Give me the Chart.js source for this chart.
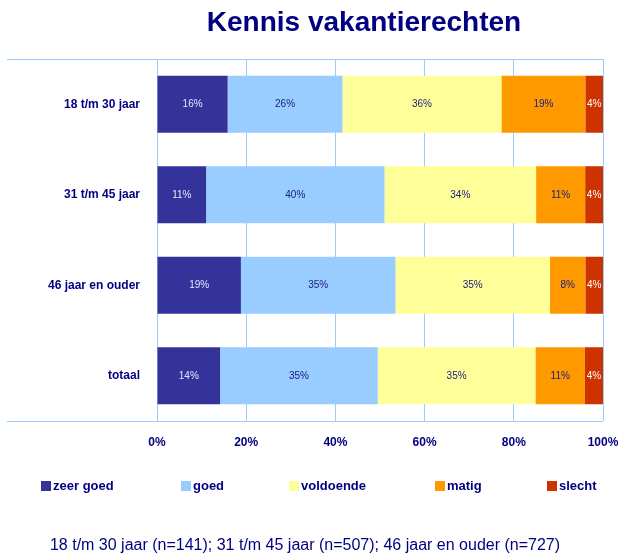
<!DOCTYPE html>
<html>
<head>
<meta charset="utf-8">
<script src="https://cdn.jsdelivr.net/npm/chart.js@4"></script>
<style>
  body { margin: 0; background: #fff; }
  #wrap { width: 618px; height: 554px; }
</style>
</head>
<body>
<div id="wrap"><canvas id="kennis" width="618" height="554"></canvas></div>
<script>
"use strict";

const categories = ["18 t/m 30 jaar", "31 t/m 45 jaar", "46 jaar en ouder", "totaal"];
const seriesNames = ["zeer goed", "goed", "voldoende", "matig", "slecht"];
const zeerGoed = [16, 11, 19, 14];
const goed = [26, 40, 35, 35];
const voldoende = [36, 34, 35, 35];
const matig = [19, 11, 8, 11];
const slecht = [4, 4, 4, 4];
const xTicks = [0, 20, 40, 60, 80, 100];

const colors = ["#333399", "#99CCFF", "#FFFF99", "#FF9900", "#CC3300"];
const labelColors = ["#E6E6FF", "#1A1A80", "#1A1A80", "#1A1A80", "#FFFFFF"];
const navy = "#000080";
const lineBlue = "#99CCFF";
const font = "'Liberation Sans', Arial, sans-serif";

const raw = [zeerGoed, goed, voldoende, matig, slecht];
// 100% stacked: scale each row to its total
const totals = categories.map((c, i) => raw.reduce((s, arr) => s + arr[i], 0));

const kennis = document.getElementById("kennis");

// title, frame lines, value labels, legend and footnote
const extras = {
  id: "extras",
  afterDatasetsDraw(chart) {
    const ctx = chart.ctx;
    const area = chart.chartArea;
    ctx.save();

    ctx.strokeStyle = lineBlue;
    ctx.lineWidth = 1;
    ctx.beginPath();
    ctx.moveTo(7, Math.round(area.top) + 0.5);
    ctx.lineTo(area.right, Math.round(area.top) + 0.5);
    ctx.moveTo(7, Math.round(area.bottom) + 0.5);
    ctx.lineTo(area.right, Math.round(area.bottom) + 0.5);
    ctx.stroke();

    // value labels
    ctx.font = "10px " + font;
    ctx.textAlign = "center";
    ctx.textBaseline = "middle";
    chart.data.datasets.forEach((ds, d) => {
      chart.getDatasetMeta(d).data.forEach((bar, i) => {
        const cx = (bar.x + bar.base) / 2;
        ctx.fillStyle = labelColors[d];
        ctx.fillText(raw[d][i] + "%", cx, bar.y);
      });
    });

    // title
    ctx.fillStyle = navy;
    ctx.font = "bold 28px " + font;
    ctx.textBaseline = "alphabetic";
    ctx.fillText("Kennis vakantierechten", 364, 31);

    // legend
    const legendX = [41, 181, 289, 435, 547];
    ctx.font = "bold 13px " + font;
    ctx.textAlign = "left";
    ctx.textBaseline = "middle";
    seriesNames.forEach((name, k) => {
      ctx.fillStyle = colors[k];
      ctx.fillRect(legendX[k], 481, 10, 10);
      ctx.fillStyle = navy;
      ctx.fillText(name, legendX[k] + 12, 486);
    });

    // footnote
    ctx.font = "16px " + font;
    ctx.textAlign = "center";
    ctx.fillText("18 t/m 30 jaar (n=141); 31 t/m 45 jaar (n=507); 46 jaar en ouder (n=727)", 305, 546);

    ctx.restore();
  },
};

new Chart(kennis, {
  type: "bar",
  data: {
    labels: categories,
    datasets: seriesNames.map((name, k) => ({
      label: name,
      data: raw[k].map((v, i) => (v / totals[i]) * 100),
      backgroundColor: colors[k],
      borderWidth: 0,
      categoryPercentage: 1,
      barPercentage: 0.63,
    })),
  },
  options: {
    indexAxis: "y",
    responsive: false,
    animation: false,
    layout: { padding: { top: 59, right: 15, left: 0, bottom: 0 } },
    plugins: {
      legend: { display: false },
      title: { display: false },
      tooltip: { enabled: false },
    },
    scales: {
      x: {
        stacked: true,
        min: 0,
        max: 100,
        afterBuildTicks(scale) {
          scale.ticks = xTicks.map((v) => ({ value: v }));
        },
        afterFit(scale) {
          scale.height = 133;
          scale.paddingLeft = 0;
          scale.paddingRight = 0;
        },
        grid: { color: lineBlue, drawTicks: false, tickLength: 0 },
        border: { display: false },
        ticks: {
          padding: 14,
          color: navy,
          font: { family: font, size: 12, weight: "bold" },
          callback: (v) => v + "%",
        },
      },
      y: {
        stacked: true,
        afterFit(scale) {
          scale.width = 157;
        },
        grid: { display: false, drawTicks: false },
        border: { display: false },
        ticks: {
          padding: 17,
          color: navy,
          font: { family: font, size: 12, weight: "bold" },
        },
      },
    },
  },
  plugins: [extras],
});
</script>
</body>
</html>
